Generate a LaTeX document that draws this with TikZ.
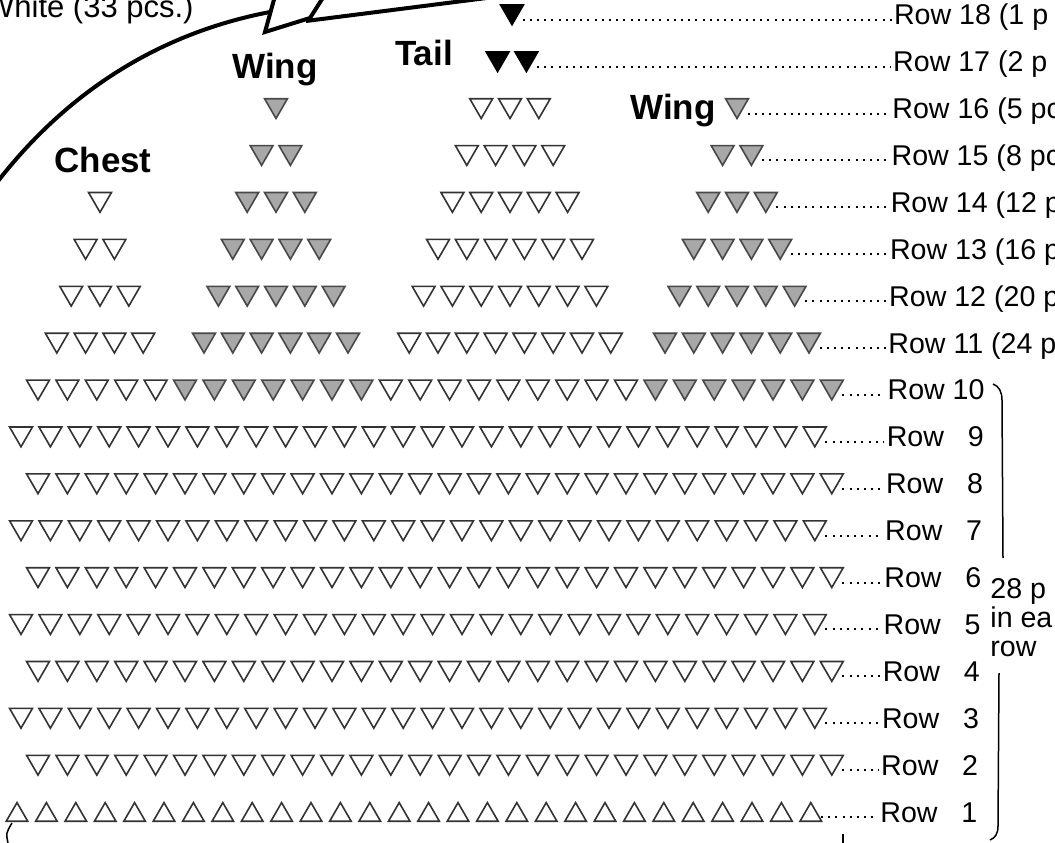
\documentclass[tikz,border=0pt]{standalone}
\usepackage{fontspec}
\setmainfont{Liberation Sans}
\usetikzlibrary{shapes.geometric,positioning}
\definecolor{trEdge}{HTML}{333333}
\definecolor{trGrey}{HTML}{A8A8A8}
\definecolor{trGreyEdge}{HTML}{484848}

\begin{document}
\begin{tikzpicture}[x=0.5pt,y=-0.5pt,font=\fontsize{14.3}{17}\selectfont,
  tri/.style={regular polygon,regular polygon sides=3,shape border rotate=180,
              minimum size=13.2pt,inner sep=0pt,outer sep=0pt,line width=0.8pt},
  w/.style={tri,draw=trEdge,fill=white},
  g/.style={tri,draw=trGreyEdge,fill=trGrey},
  k/.style={tri,draw=black,fill=black},
  up/.style={tri,shape border rotate=0,minimum size=12.4pt,draw=trEdge,fill=white},
  part/.style={font=\fontsize{17.5}{20}\selectfont\bfseries,anchor=base,inner sep=0pt},
  lbl/.style={anchor=base west,inner sep=0pt},
  lead/.style={line width=1pt,dash pattern=on 1pt off 2.6pt},
  brk/.style={line width=0.75pt},
  edgeline/.style={line width=2pt,line join=miter}]
\path[use as bounding box,clip] (0,0) rectangle (1055,842);

\draw[edgeline] (-5,185) .. controls (60,100) and (150,35) .. (270,12);
\draw[edgeline] (275,-4) -- (265,32) -- (310,18) -- (324,-4);
\draw[edgeline] (306,21) -- (510,-5);
\node[anchor=base east,inner sep=0pt,font=\fontsize{15.5}{18}\selectfont] (white) at (194,17) {White (33 pcs.)};

\node[part] (chest) at (103,172) {Chest};
\node[part] (wingl) at (275,78) {Wing};
\node[part] (tail) at (424,65) {Tail};
\node[part,anchor=base east] (wingr) at (716,119) {Wing};

\foreach \i in {1,...,28}
  \node[up] (t1-\i) at ({17+(\i-1)*29.4},815) {};
\foreach \r in {2,...,9}{
  \pgfmathsetmacro\xs{mod(\r,2)==1 ? 21 : 38}
  \pgfmathsetmacro\yr{812-(\r-1)*46.9-3.2}
  \foreach \i in {1,...,28}
    \node[w] (t\r-\i) at ({\xs+(\i-1)*29.4},\yr) {};
}
\foreach \i in {1,...,28}{
  \pgfmathtruncatemacro\isg{((\i>5)&&(\i<13))||(\i>21)}
  \ifnum\isg=1
    \node[g] (t10-\i) at ({38+(\i-1)*29.4},{812-9*46.9-3.2}) {};
  \else
    \node[w] (t10-\i) at ({38+(\i-1)*29.4},{812-9*46.9-3.2}) {};
  \fi
}

\foreach \r in {11,...,18}{
  \pgfmathsetmacro\yr{812-(\r-1)*46.9-3.2}
  \pgfmathtruncatemacro\nc{15-\r}
  \pgfmathtruncatemacro\nw{17-\r}
  \pgfmathtruncatemacro\nt{19-\r}
  \ifnum\nc>0
    \foreach \i in {1,...,\nc}
      \node[w] (c\r-\i) at ({100+(\i-(\nc+1)/2)*28.8},\yr) {};
  \fi
  \ifnum\nw>0
    \foreach \i in {1,...,\nw}{
      \node[g] (lw\r-\i) at ({276+(\i-(\nw+1)/2)*28.8},\yr) {};
      \node[g] (rw\r-\i) at ({737+(\i-(\nw+1)/2)*28.8},\yr) {};
    }
  \fi
  \ifnum\r>16
    \foreach \i in {1,...,\nt}
      \node[k] (tl\r-\i) at ({512+(\i-(\nt+1)/2)*28.8},\yr) {};
  \else
    \foreach \i in {1,...,\nt}
      \node[w] (tl\r-\i) at ({510+(\i-(\nt+1)/2)*28.8},\yr) {};
  \fi
}

\foreach \r in {1,...,10}
  \node[lbl] (row\r) at ({880+(\r-1)*0.8},{812-(\r-1)*46.9+10})
    {Row \ifnum\r<10 \hphantom{0}\fi\r};
\foreach \r/\s in {11/24 p,12/20 p,13/16 p,14/12 p,15/8 pc,16/5 pc,17/2 p,18/1 p}
  \node[lbl] (row\r) at ({880+(\r-1)*0.8},{812-(\r-1)*46.9+10}) {Row \r\ (\s};

\foreach \r in {1,...,18}
  \path ([yshift=2.5pt]row\r.base west) coordinate (ld\r);
\foreach \r in {1,...,10}
  \draw[lead] ([xshift=1.5pt]t\r-28.east |- ld\r) -- ([xshift=-1pt]ld\r);
\foreach \r/\n in {11/6,12/5,13/4,14/3,15/2,16/1}
  \draw[lead] ([xshift=1.5pt]rw\r-\n.east |- ld\r) -- ([xshift=-1pt]ld\r);
\foreach \r/\n in {17/2,18/1}
  \draw[lead] ([xshift=1.5pt]tl\r-\n.east |- ld\r) -- ([xshift=-1pt]ld\r);

\node[anchor=north west,inner sep=0pt,align=left,font=\fontsize{14.3}{14.5}\selectfont]
  (pcs) at (990,578) {28 p\\in ea\\row};
\draw[brk] (993,384) .. controls (999,386) and (1002,392) .. (1002,400) -- (1003,558);
\draw[brk] (999,673) -- (998,826) .. controls (998,834) and (995,838) .. (990,840);
\draw[brk] (8,843) .. controls (6,833) .. (12,823);
\draw[brk] (843,834) -- (843,845);
\end{tikzpicture}
\end{document}
